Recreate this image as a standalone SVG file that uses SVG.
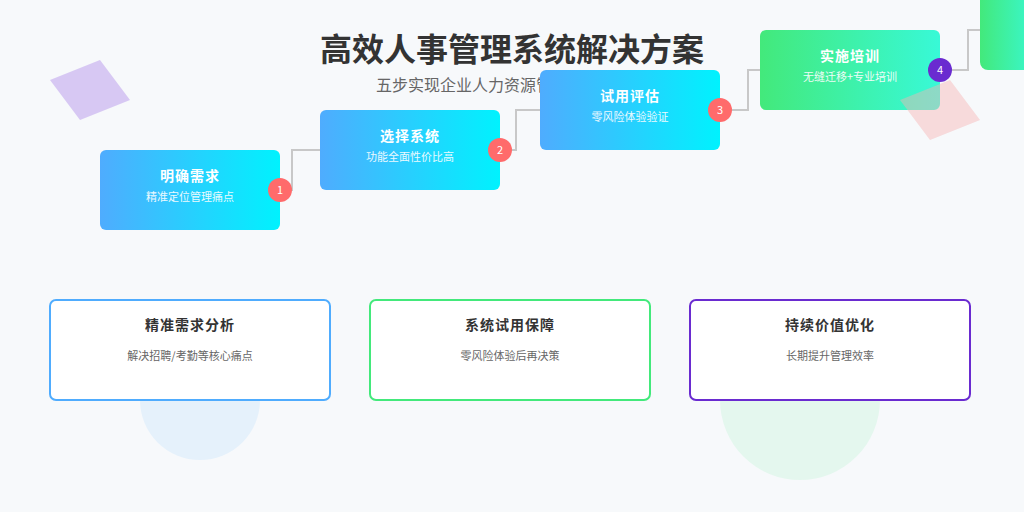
<svg xmlns="http://www.w3.org/2000/svg" width="1024" height="512" viewBox="0 0 1024 512">
<defs>
<linearGradient id="gb" x1="0" y1="0" x2="1" y2="0"><stop offset="0" stop-color="#4facfe"/><stop offset="1" stop-color="#00f2fe"/></linearGradient>
<linearGradient id="gg" x1="0" y1="0" x2="1" y2="0"><stop offset="0" stop-color="#43e97b"/><stop offset="1" stop-color="#38f9d7"/></linearGradient>
<style>
text{font-family:"Noto Sans CJK SC","Noto Sans",sans-serif;text-anchor:middle}
.t{fill:#fff;font-size:14px;font-weight:bold;letter-spacing:1px}
.s{fill:#fff;font-size:11px;opacity:.9}
.n{fill:#fff;font-size:11px}
.ct{fill:#333;font-size:14px;font-weight:bold;letter-spacing:1px}
.cs{fill:#666;font-size:11px}
.card{fill:#fff;stroke-width:2}
.c{fill:none;stroke:#c8c8c8;stroke-width:2}
</style>
</defs>
<rect width="1024" height="512" fill="#f7f9fb"/>
<circle cx="200" cy="400" r="60" fill="#4facfe" opacity=".1"/>
<circle cx="800" cy="400" r="80" fill="#43e97b" opacity=".1"/>
<polygon points="50,80 100,60 130,100 80,120" fill="#c9b3ef" opacity=".7"/>
<rect x="980" y="-10" width="60" height="80" rx="8" fill="url(#gg)"/>
<text x="512" y="61" style="font-size:32px;font-weight:bold;fill:#333">高效人事管理系统解决方案</text>
<text x="376" y="91" style="font-size:16px;fill:#666;text-anchor:start">五步实现企业人力资源管理升级</text>
<g id="connectors">
<polyline class="c" points="280,190 292,190 292,150 320,150"/>
<polyline class="c" points="500,150 516,150 516,110 540,110"/>
<polyline class="c" points="720,110 748,110 748,70 760,70"/>
<polyline class="c" points="940,70 968,70 968,30 980,30"/>
</g>
<g id="step1"><rect x="100" y="150" width="180" height="80" rx="6" fill="url(#gb)"/><text class="t" x="190" y="181">明确需求</text><text class="s" x="190" y="201">精准定位管理痛点</text></g>
<g id="step2"><rect x="320" y="110" width="180" height="80" rx="6" fill="url(#gb)"/><text class="t" x="410" y="141">选择系统</text><text class="s" x="410" y="161">功能全面性价比高</text></g>
<g id="step3"><rect x="540" y="70" width="180" height="80" rx="6" fill="url(#gb)"/><text class="t" x="630" y="101">试用评估</text><text class="s" x="630" y="121">零风险体验验证</text></g>
<g id="step4"><rect x="760" y="30" width="180" height="80" rx="6" fill="url(#gg)"/><text class="t" x="850" y="61">实施培训</text><text class="s" x="850" y="81">无缝迁移+专业培训</text></g>
<polygon points="900,100 950,80 980,120 930,140" fill="#f7b3b3" opacity=".45"/>
<g id="n1"><circle cx="280" cy="190" r="12" fill="#ff6b6b"/><text class="n" x="280" y="194">1</text></g>
<g id="n2"><circle cx="500" cy="150" r="12" fill="#ff6b6b"/><text class="n" x="500" y="154">2</text></g>
<g id="n3"><circle cx="720" cy="110" r="12" fill="#ff6b6b"/><text class="n" x="720" y="114">3</text></g>
<g id="n4"><circle cx="940" cy="70" r="12" fill="#6a2bd0"/><text class="n" x="940" y="74">4</text></g>
<g id="card1"><rect class="card" x="50" y="300" width="280" height="100" rx="6" stroke="#4facfe"/><text class="ct" x="190" y="330">精准需求分析</text><text class="cs" x="190" y="360">解决招聘/考勤等核心痛点</text></g>
<g id="card2"><rect class="card" x="370" y="300" width="280" height="100" rx="6" stroke="#43e97b"/><text class="ct" x="510" y="330">系统试用保障</text><text class="cs" x="510" y="360">零风险体验后再决策</text></g>
<g id="card3"><rect class="card" x="690" y="300" width="280" height="100" rx="6" stroke="#6a2bd0"/><text class="ct" x="830" y="330">持续价值优化</text><text class="cs" x="830" y="360">长期提升管理效率</text></g>
</svg>
